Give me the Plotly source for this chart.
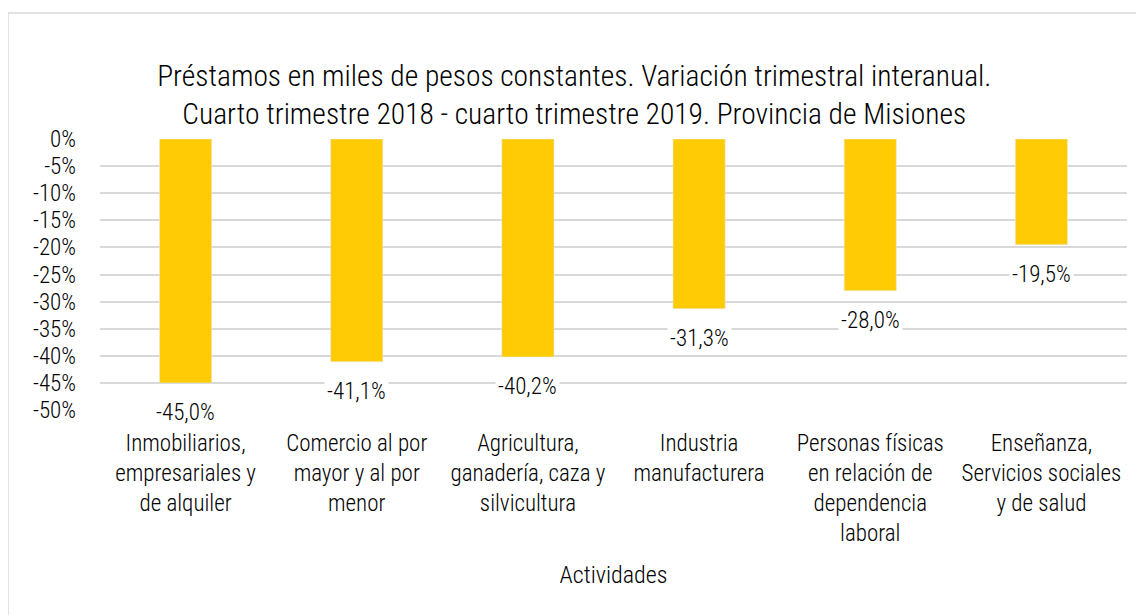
import plotly.graph_objects as go

categories = [
    "Inmobiliarios,<br>empresariales y<br>de alquiler",
    "Comercio al por<br>mayor y al por<br>menor",
    "Agricultura,<br>ganadería, caza y<br>silvicultura",
    "Industria<br>manufacturera",
    "Personas físicas<br>en relación de<br>dependencia<br>laboral",
    "Enseñanza,<br>Servicios sociales<br>y de salud",
]
values = [-0.450, -0.411, -0.402, -0.313, -0.280, -0.195]
labels = ["-45,0%", "-41,1%", "-40,2%", "-31,3%", "-28,0%", "-19,5%"]
tick_vals = [0, -0.05, -0.10, -0.15, -0.20, -0.25, -0.30, -0.35, -0.40, -0.45, -0.50]
tick_text = ["0%", "-5%", "-10%", "-15%", "-20%", "-25%", "-30%", "-35%", "-40%", "-45%", "-50%"]

FONT = "Roboto Condensed, Liberation Sans Narrow, Arial Narrow, sans-serif"
W = 300
x_idx = list(range(len(categories)))

fig = go.Figure()
fig.add_trace(go.Bar(
    x=x_idx, y=values, marker_color="#FFCB05", width=0.305,
    hoverinfo="skip",
))

for xi, v, t in zip(x_idx, values, labels):
    fig.add_annotation(
        x=xi, y=v, text=t, showarrow=False, yshift=-30,
        bgcolor="white", font=dict(size=23, color="#000000", family=FONT, weight=W),
        borderpad=2,
    )

fig.add_shape(type="rect", xref="paper", yref="paper",
              x0=-0.0896, x1=2, y0=-3, y1=1.465,
              line=dict(color="#D9D9D9", width=1.5), layer="below")

fig.update_layout(
    width=1144, height=615,
    paper_bgcolor="white", plot_bgcolor="white",
    margin=dict(l=92, r=25, t=131, b=213),
    font=dict(family=FONT, color="#000000", size=23, weight=W),
    title=dict(
        text="Préstamos en miles de pesos constantes. Variación trimestral interanual.<br>Cuarto trimestre 2018 - cuarto trimestre 2019. Provincia de Misiones",
        x=0.495, xanchor="center", xref="container", y=0.873, yanchor="middle",
        font=dict(size=29.5, family=FONT, color="#000000", weight=W),
    ),
    showlegend=False,
)
fig.update_xaxes(
    tickmode="array", tickvals=x_idx, ticktext=categories,
    range=[-0.5, 5.5], showgrid=False, zeroline=False, showline=False,
    ticks="", tickfont=dict(size=23, weight=W), tickangle=0, ticklabelstandoff=17,
    title=dict(text="Actividades", font=dict(size=24, weight=W), standoff=20),
    side="bottom",
)
fig.update_yaxes(
    range=[-0.5, 0], tickmode="array", tickvals=tick_vals, ticktext=tick_text,
    showgrid=True, gridcolor="#D9D9D9", gridwidth=1.5, zeroline=False,
    tickfont=dict(size=23, weight=W), ticks="", ticklabelstandoff=23,
)

fig.write_html("out.html")
